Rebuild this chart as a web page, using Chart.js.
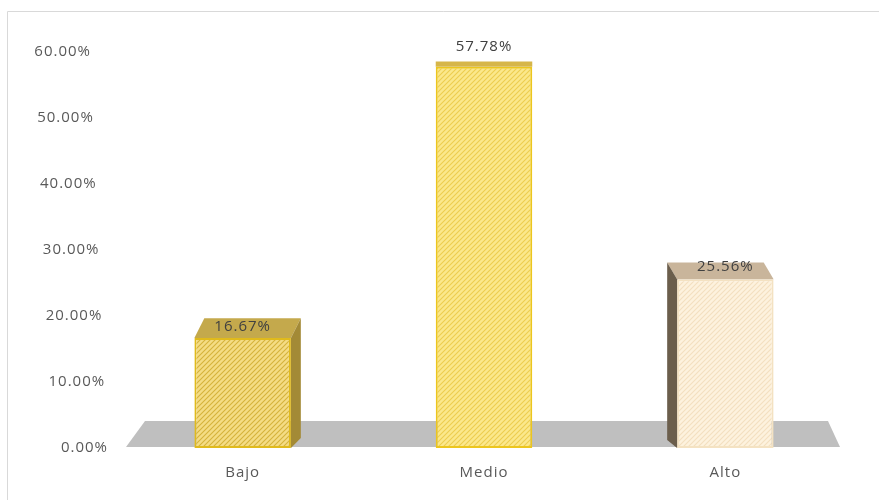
<!DOCTYPE html>
<html>
<head>
<meta charset="utf-8">
<script src="https://cdn.jsdelivr.net/npm/chart.js@4.4.1/dist/chart.umd.min.js"></script>
<style>
  html, body { margin: 0; padding: 0; background: #fff; }
  #wrap { width: 879px; height: 500px; }
</style>
</head>
<body>
<div id="wrap"><canvas id="chart" width="879" height="500"></canvas></div>
<script>
const categories = ["Bajo", "Medio", "Alto"];
const percentages = [16.67, 57.78, 25.56];
const yTicks = [0, 10, 20, 30, 40, 50, 60];

// bar styles (front hatch, top face, side face, border)
const frontBase = ["#f4dc84", "#fbe88c", "#fdf2de"];
const hatchLine = ["#d4b23c", "#eccd50", "#f3dfbf"];
const topColors = ["#c4a94c", "#d6b64a", "#c9b59b"];
const sideColors = ["#a38a36", "#b89a3a", "#6b5e4c"];
const borderColors = ["#e0ba1c", "#ecc61e", "#f4e2c2"];

const FONT = '15px "Open Sans", sans-serif';

function hatch(base, line) {
  const c = document.createElement("canvas");
  c.width = 5; c.height = 5;
  const g = c.getContext("2d");
  g.fillStyle = base;
  g.fillRect(0, 0, 5, 5);
  g.strokeStyle = line;
  g.lineWidth = 1.1;
  g.beginPath();
  g.moveTo(0, 5); g.lineTo(5, 0);
  g.moveTo(-1, 1); g.lineTo(1, -1);
  g.moveTo(4, 6); g.lineTo(6, 4);
  g.stroke();
  return g.createPattern(c, "repeat");
}

function quad(ctx, pts, fill) {
  ctx.beginPath();
  ctx.moveTo(pts[0][0], pts[0][1]);
  for (let i = 1; i < pts.length; i++) ctx.lineTo(pts[i][0], pts[i][1]);
  ctx.closePath();
  ctx.fillStyle = fill;
  ctx.fill();
}

const bar3d = {
  id: "bar3d",
  beforeDraw(chart) {
    const ctx = chart.ctx;
    ctx.save();
    ctx.strokeStyle = "#d9d9d9";
    ctx.lineWidth = 1;
    ctx.beginPath();
    ctx.moveTo(7.5, 500); ctx.lineTo(7.5, 11.5); ctx.lineTo(879, 11.5);
    ctx.stroke();
    ctx.restore();
  },
  beforeDatasetsDraw(chart) {
    const ctx = chart.ctx, a = chart.chartArea;
    const b = a.bottom;
    ctx.save();
    quad(ctx, [[a.left + 4, b - 1], [a.left + 23, b - 27], [a.right - 18, b - 27], [a.right - 6, b - 1]], "#bfbfbf");
    ctx.restore();
  },
  afterDatasetsDraw(chart) {
    const ctx = chart.ctx, a = chart.chartArea;
    const cx = (a.left + a.right) / 2;
    const meta = chart.getDatasetMeta(0);
    ctx.save();
    ctx.letterSpacing = "1px";
    meta.data.forEach((el, i) => {
      const p = el.getProps(["x", "y", "base", "width"], true);
      const l = p.x - p.width / 2, r = p.x + p.width / 2;
      const dx = (cx - p.x) * 0.041;
      const dy = 0.054 * p.y + 1.6;
      quad(ctx, [[l, p.y], [l + dx, p.y - dy], [r + dx, p.y - dy], [r, p.y]], topColors[i]);
      if (dx > 0.5) {
        quad(ctx, [[r, p.y], [r + dx, p.y - dy], [r + dx, p.base - 10], [r, p.base]], sideColors[i]);
      } else if (dx < -0.5) {
        quad(ctx, [[l, p.y], [l + dx, p.y - dy], [l + dx, p.base - 8], [l, p.base]], sideColors[i]);
      }
      ctx.font = FONT;
      ctx.fillStyle = "#404040";
      ctx.textAlign = "center";
      ctx.textBaseline = "middle";
      ctx.fillText(percentages[i].toFixed(2) + "%", p.x, p.y - (22 - 0.033 * p.y));
      ctx.fillStyle = "#595959";
      ctx.fillText(categories[i], p.x, 473);
    });
    // y axis labels, slightly slanted like the 3D back wall
    const ys = chart.scales.y;
    ctx.textAlign = "right";
    ctx.fillStyle = "#595959";
    yTicks.forEach(v => {
      const py = ys.getPixelForValue(v);
      ctx.fillText(v.toFixed(2) + "%", 91 + (py - 52) * 17 / 397, py);
    });
    ctx.restore();
  }
};

new Chart(document.getElementById("chart"), {
  type: "bar",
  data: {
    labels: categories,
    datasets: [{
      data: percentages,
      backgroundColor: frontBase.map((c, i) => hatch(c, hatchLine[i])),
      borderColor: borderColors,
      borderWidth: 2,
      borderSkipped: false,
      categoryPercentage: 1,
      barPercentage: 0.4
    }]
  },
  options: {
    responsive: false,
    animation: false,
    layout: { padding: { left: 122, right: 33, top: 52, bottom: 52 } },
    plugins: { legend: { display: false }, tooltip: { enabled: false } },
    scales: {
      x: { display: false },
      y: { display: false, min: 0, max: 60 }
    }
  },
  plugins: [bar3d]
});
</script>
</body>
</html>
